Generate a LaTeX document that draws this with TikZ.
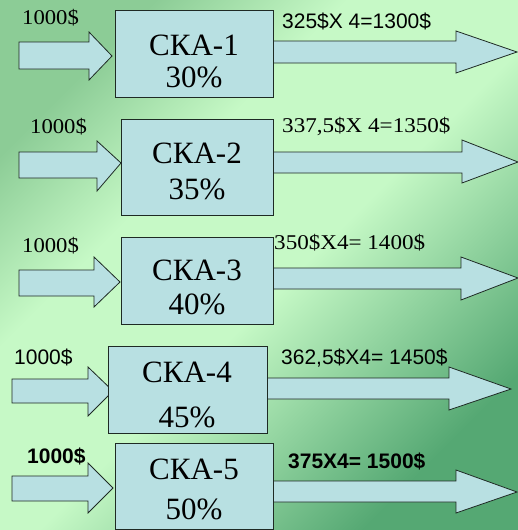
\documentclass[tikz,border=0pt]{standalone}
\usepackage{fontspec}
\setmainfont{Liberation Serif}
\newfontfamily\timesf{Liberation Serif}
\newfontfamily\arialf{Liberation Sans}
\definecolor{bgT}{HTML}{8CCC96}
\definecolor{bgL}{HTML}{C6F9C6}
\definecolor{bgD}{HTML}{55A873}
\definecolor{boxfill}{HTML}{B8E0E2}
\definecolor{edge}{HTML}{1E2A24}
\pgfdeclareverticalshading{bgshade}{100bp}{color(0bp)=(bgD); color(25bp)=(bgD); color(47bp)=(bgL); color(62bp)=(bgL); color(75bp)=(bgT); color(100bp)=(bgT)}
\newcommand\blockarrow[8]{% x0 x1 xtip yshaft0 yshaft1 yhead0 yhead1 ytip
  \draw[blk] (#1,#4) -- (#2,#4) -- (#2,#6) -- (#3,#8) -- (#2,#7) -- (#2,#5) -- (#1,#5) -- cycle;}
\begin{document}
\begin{tikzpicture}[x=1pt,y=-1pt,
  blk/.style={fill=boxfill, draw=edge, line width=0.8pt},
  casebox/.style={blk, inner sep=0pt, anchor=north west},
  boxtext/.style={font=\timesf\fontsize{31}{31}\selectfont, anchor=base, inner sep=0pt},
  labserif/.style={font=\timesf\fontsize{21}{21}\selectfont, anchor=base west, inner sep=0pt},
  labsans/.style={font=\arialf\fontsize{21}{21}\selectfont, anchor=base west, inner sep=0pt},
  labbold/.style={font=\arialf\bfseries\fontsize{21}{21}\selectfont, anchor=base west, inner sep=0pt}]
\useasboundingbox (0,0) rectangle (518,530);
\shade[shading=bgshade, shading angle=45] (0,0) rectangle (518,530);

% arrows
\blockarrow{19}{89}{112}{42}{69}{32}{80}{56}
\blockarrow{272}{456}{517}{41}{63}{31}{73}{52}
\blockarrow{19}{97}{121}{152}{178}{141}{191}{163}
\blockarrow{272}{462}{518}{152}{173}{140}{183}{162}
\blockarrow{19}{94}{120}{270}{296}{257}{307}{282}
\blockarrow{272}{461}{518}{268}{289}{257}{300}{278}
\blockarrow{12}{88}{113}{379}{403}{367}{416}{391}
\blockarrow{265}{449}{511}{378}{399}{367}{410}{389}
\blockarrow{12}{88}{113}{476}{501}{463}{513}{488}
\blockarrow{273}{456}{517}{481}{502}{470}{513}{492}

% boxes
\node[casebox, minimum width=158pt, minimum height=87pt] (b1) at (115,10) {};
\node[casebox, minimum width=152pt, minimum height=96pt] (b2) at (121,119) {};
\node[casebox, minimum width=152pt, minimum height=87pt] (b3) at (121,237) {};
\node[casebox, minimum width=159pt, minimum height=87pt] (b4) at (108,346) {};
\node[casebox, minimum width=158pt, minimum height=86pt] (b5) at (115,443) {};

% box texts
\node[boxtext] (n1) at (194,55) {СКА-1};
\node[boxtext] (p1) at (194,87) {30\%};
\node[boxtext] (n2) at (197,163) {СКА-2};
\node[boxtext] (p2) at (197,199) {35\%};
\node[boxtext] (n3) at (197,280) {СКА-3};
\node[boxtext] (p3) at (197,314) {40\%};
\node[boxtext] (n4) at (187,382) {СКА-4};
\node[boxtext] (p4) at (187,427) {45\%};
\node[boxtext] (n5) at (194,479) {СКА-5};
\node[boxtext] (p5) at (194,519) {50\%};

% labels
\node[labserif] (i1) at (22,24) {\scalebox{1.08}[1]{1000\$}};
\node[labsans] (o1) at (282,28) {325\$X 4=1300\$};
\node[labserif] (i2) at (30,133) {\scalebox{1.08}[1]{1000\$}};
\node[labserif] (o2) at (282,132) {\scalebox{1.1}[1]{337,5\$X 4=1350\$}};
\node[labserif] (i3) at (22,252) {\scalebox{1.08}[1]{1000\$}};
\node[labserif] (o3) at (274,249) {\scalebox{1.1}[1]{350\$X4= 1400\$}};
\node[labsans] (i4) at (14,364) {1000\$};
\node[labsans] (o4) at (281,364) {362,5\$X4= 1450\$};
\node[labbold] (i5) at (27,463) {1000\$};
\node[labbold] (o5) at (288,468) {375X4= 1500\$};
\end{tikzpicture}
\end{document}
